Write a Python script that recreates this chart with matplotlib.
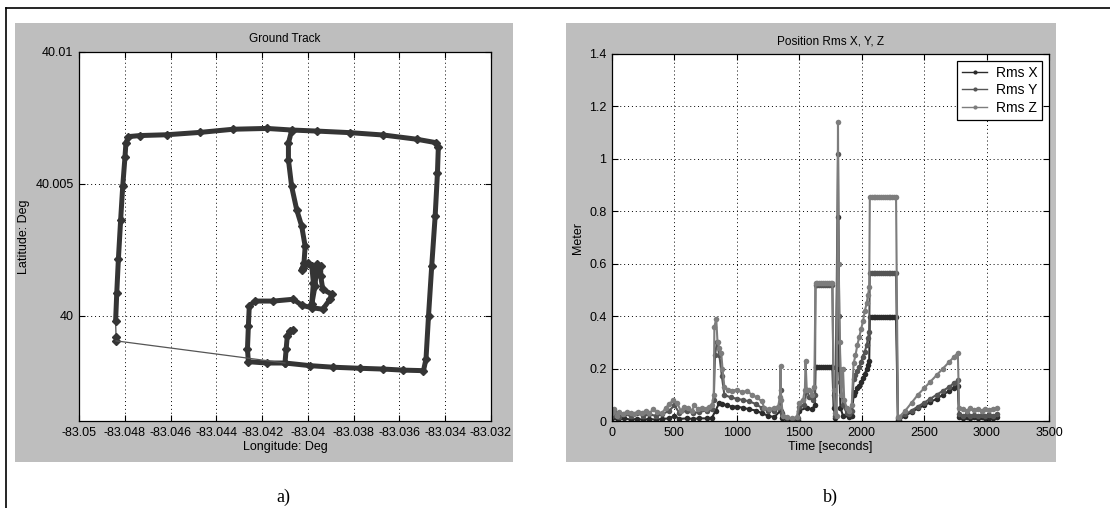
import matplotlib
matplotlib.use("Agg")
from matplotlib import pyplot as plt
from matplotlib.patches import Rectangle
from matplotlib.lines import Line2D

plt.rcParams["font.family"] = ["Liberation Sans", "DejaVu Sans"]

# ---- a) ground track (deg) ----
# main drive: spur -> bottom road -> right edge -> top road -> left edge
track_lon_a = [-83.04066, -83.04078, -83.04090, -83.04095, -83.04100, -83.03991, -83.03889,
               -83.03772, -83.03670, -83.03583, -83.03495, -83.03484, -83.03473, -83.03459,
               -83.03444, -83.03434, -83.03430, -83.03440, -83.03524, -83.03670, -83.03816,
               -83.03961, -83.04071, -83.04180, -83.04326, -83.04471, -83.04617, -83.04733,
               -83.04784, -83.04795, -83.04799, -83.04809, -83.04818, -83.04828, -83.04835,
               -83.04840]
track_lat_a = [39.99946, 39.99940, 39.99923, 39.99873, 39.99820, 39.99810, 39.99804,
               39.99800, 39.99797, 39.99793, 39.99791, 39.99835, 39.99999, 40.00188,
               40.00377, 40.00540, 40.00641, 40.00656, 40.00669, 40.00685, 40.00694,
               40.00700, 40.00704, 40.00710, 40.00707, 40.00695, 40.00686, 40.00683,
               40.00679, 40.00654, 40.00603, 40.00490, 40.00364, 40.00213, 40.00087,
               39.99980]
# isolated fixes after the outage
gap_lon = [-83.04838, -83.04838]
gap_lat = [39.99917, 39.99904]
# lower loop, block and middle street
track_lon_b = [-83.04100, -83.04180, -83.04260, -83.04264, -83.04260, -83.04256, -83.04231,
               -83.04151, -83.04063, -83.04027, -83.03983, -83.03935, -83.03903, -83.03896,
               -83.03935, -83.03944, -83.03944, -83.03961, -83.03969, -83.03983, -83.03976,
               -83.03983, -83.03998, -83.04020, -83.04027, -83.04017, -83.04012, -83.04027,
               -83.04049, -83.04071, -83.04085, -83.04085, -83.04071]
track_lat_b = [39.99820, 39.99820, 39.99825, 39.99873, 39.99961, 40.00037, 40.00055,
               40.00055, 40.00062, 40.00039, 40.00030, 40.00024, 40.00062, 40.00081,
               40.00100, 40.00150, 40.00188, 40.00194, 40.00112, 40.00043, 40.00125,
               40.00188, 40.00200, 40.00181, 40.00173, 40.00200, 40.00263, 40.00339,
               40.00402, 40.00490, 40.00591, 40.00654, 40.00702]

lon_ticks = [-83.05, -83.048, -83.046, -83.044, -83.042, -83.04, -83.038, -83.036, -83.034, -83.032]
lon_labels = ["-83.05", "-83.048", "-83.046", "-83.044", "-83.042", "-83.04", "-83.038",
              "-83.036", "-83.034", "-83.032"]
lat_ticks = [40.0, 40.005, 40.01]
lat_labels = ["40", "40.005", "40.01"]

# ---- b) position rms (m) vs time (s) ----
time_x = [0, 50, 100, 150, 200, 250, 300, 350, 400, 460, 500, 540, 600, 650, 700, 760, 800,
          830, 860, 880, 920, 960, 1000, 1050, 1100, 1150, 1200, 1250, 1300, 1350, 1360,
          1400, 1450, 1490, 1500, 1560, 1600, 1625,
          1630, 1645, 1660, 1675, 1690, 1705, 1720, 1735, 1750, 1765,
          1775, 1790, 1810, 1820, 1830, 1850, 1900, 1920,
          1935, 1950, 1965, 1980, 1995, 2010, 2025, 2040, 2050, 2060,
          2065, 2080, 2095, 2110, 2125, 2140, 2155, 2170, 2185, 2200, 2215, 2230, 2245, 2260, 2275,
          2290, 2300, 2350, 2400, 2450, 2500, 2550, 2600, 2650, 2700, 2740, 2770,
          2780, 2810, 2840, 2870, 2900, 2930, 2960, 2990, 3020, 3050, 3080]
rms_x = [0.01, 0.005, 0.01, 0.005, 0.008, 0.005, 0.008, 0.005, 0.008, 0.01, 0.02, 0.008, 0.01,
         0.008, 0.01, 0.01, 0.012,
         0.04, 0.07, 0.065, 0.06, 0.055, 0.055, 0.05, 0.045, 0.04, 0.03, 0.02, 0.015, 0.04, 0.01,
         0.003, 0.002, 0.003, 0.04, 0.05, 0.045, 0.06,
         0.205, 0.205, 0.205, 0.205, 0.205, 0.205, 0.205, 0.205, 0.205, 0.205,
         0.05, 0.01, 0.78, 0.2, 0.05, 0.02, 0.015, 0.02,
         0.1, 0.11, 0.125, 0.135, 0.15, 0.165, 0.18, 0.2, 0.215, 0.23,
         0.395, 0.395, 0.395, 0.395, 0.395, 0.395, 0.395, 0.395, 0.395, 0.395, 0.395, 0.395,
         0.395, 0.395, 0.395,
         0.005, 0.005, 0.02, 0.035, 0.048, 0.06, 0.072, 0.085, 0.1, 0.115, 0.126, 0.135,
         0.015, 0.012, 0.015, 0.01, 0.014, 0.012, 0.015, 0.011, 0.013, 0.012, 0.015]

time_y = [0, 30, 60, 100, 150, 200, 250, 300, 350, 400, 460, 500, 540, 600, 650, 700, 760, 800,
          815, 825, 840, 860, 880, 900, 950, 1000, 1050, 1100, 1150, 1200, 1250, 1300, 1340,
          1350, 1360, 1400, 1450, 1490, 1500, 1540, 1560, 1580, 1610, 1625,
          1630, 1645, 1660, 1675, 1690, 1705, 1720, 1735, 1750, 1765,
          1775, 1790, 1810, 1820, 1830, 1850, 1880, 1900, 1920,
          1935, 1950, 1965, 1980, 1995, 2010, 2025, 2040, 2050, 2060,
          2065, 2080, 2095, 2110, 2125, 2140, 2155, 2170, 2185, 2200, 2215, 2230, 2245, 2260, 2275,
          2290, 2300, 2350, 2400, 2450, 2500, 2550, 2600, 2650, 2700, 2740, 2770,
          2780, 2810, 2840, 2870, 2900, 2930, 2960, 2990, 3020, 3050, 3080]
rms_y = [0.02, 0.03, 0.015, 0.025, 0.02, 0.03, 0.02, 0.025, 0.02, 0.025, 0.04, 0.06, 0.03,
         0.04, 0.03, 0.035, 0.04, 0.045,
         0.08, 0.25, 0.3, 0.25, 0.17, 0.1, 0.09, 0.085, 0.08, 0.075, 0.065, 0.05, 0.04, 0.04, 0.05,
         0.12, 0.03, 0.01, 0.005, 0.01, 0.055, 0.06, 0.12, 0.09, 0.08, 0.1,
         0.52, 0.52, 0.52, 0.52, 0.52, 0.52, 0.52, 0.52, 0.52, 0.52,
         0.1, 0.02, 1.02, 0.4, 0.15, 0.06, 0.03, 0.025, 0.04,
         0.16, 0.175, 0.19, 0.205, 0.225, 0.245, 0.265, 0.29, 0.315, 0.34,
         0.565, 0.565, 0.565, 0.565, 0.565, 0.565, 0.565, 0.565, 0.565, 0.565, 0.565, 0.565,
         0.565, 0.565, 0.565,
         0.01, 0.01, 0.025, 0.04, 0.055, 0.07, 0.085, 0.1, 0.115, 0.13, 0.145, 0.155,
         0.025, 0.02, 0.025, 0.018, 0.022, 0.02, 0.024, 0.019, 0.021, 0.02, 0.025]

time_z = [0, 20, 40, 60, 90, 120, 150, 180, 210, 240, 270, 300, 330, 360, 400, 430, 460, 490,
          520, 550, 580, 610, 640, 660, 690, 720, 750, 780, 800, 815, 820, 835, 845, 860, 875,
          885, 900, 930, 960, 1000, 1040, 1080, 1120, 1160, 1200, 1220, 1260, 1300, 1330, 1345,
          1350, 1355, 1370, 1400, 1440, 1480, 1500, 1530, 1545, 1550, 1560, 1580, 1600, 1620,
          1630, 1645, 1660, 1675, 1690, 1705, 1720, 1735, 1750, 1765,
          1775, 1790, 1800, 1810, 1815, 1825, 1835, 1850, 1860, 1880, 1900, 1920,
          1935, 1950, 1965, 1980, 1995, 2010, 2025, 2040, 2050, 2060,
          2065, 2080, 2095, 2110, 2125, 2140, 2155, 2170, 2185, 2200, 2215, 2230, 2245, 2260, 2275,
          2290, 2300, 2350, 2400, 2450, 2500, 2550, 2600, 2650, 2700, 2740, 2770,
          2780, 2810, 2840, 2870, 2900, 2930, 2960, 2990, 3020, 3050, 3080]
rms_z = [0.03, 0.045, 0.02, 0.035, 0.025, 0.035, 0.03, 0.025, 0.035, 0.03, 0.04, 0.03, 0.045,
         0.035, 0.03, 0.05, 0.065, 0.08, 0.07, 0.04, 0.055, 0.05, 0.04, 0.06, 0.045, 0.05, 0.045,
         0.055, 0.06, 0.1, 0.36, 0.39, 0.3, 0.28, 0.26, 0.2, 0.13, 0.12, 0.115, 0.12, 0.11,
         0.115, 0.1, 0.09, 0.075, 0.05, 0.045, 0.05, 0.055, 0.09, 0.21, 0.08, 0.02, 0.015, 0.01,
         0.015, 0.07, 0.08, 0.12, 0.23, 0.12, 0.12, 0.1, 0.13,
         0.525, 0.525, 0.525, 0.525, 0.525, 0.525, 0.525, 0.525, 0.525, 0.525,
         0.12, 0.03, 0.02, 1.14, 0.6, 0.3, 0.1, 0.2, 0.08, 0.05, 0.04, 0.06,
         0.22, 0.25, 0.29, 0.32, 0.35, 0.38, 0.42, 0.45, 0.48, 0.51,
         0.855, 0.855, 0.855, 0.855, 0.855, 0.855, 0.855, 0.855, 0.855, 0.855, 0.855, 0.855,
         0.855, 0.855, 0.855,
         0.015, 0.015, 0.04, 0.07, 0.1, 0.125, 0.15, 0.175, 0.2, 0.225, 0.245, 0.26,
         0.05, 0.045, 0.04, 0.048, 0.042, 0.046, 0.04, 0.047, 0.043, 0.045, 0.05]

series_names = ["Rms X", "Rms Y", "Rms Z"]
series_colors = ["#2b2b2b", "#555555", "#7d7d7d"]

time_ticks = [0, 500, 1000, 1500, 2000, 2500, 3000, 3500]
meter_ticks = [0, 0.2, 0.4, 0.6, 0.8, 1.0, 1.2, 1.4]
meter_labels = ["0", "0.2", "0.4", "0.6", "0.8", "1", "1.2", "1.4"]

PANEL_GRAY = "#bebebe"
TRACK_COLOR = "#353535"


def style_axes(ax):
    # matlab look: boxed, ticks inside on all sides, dotted grid
    ax.grid(True, color="black", linestyle=(0, (1, 3)), linewidth=0.7)
    ax.tick_params(direction="in", top=True, right=True, length=4, width=0.8,
                   labelsize=9, pad=4)
    for sp in ax.spines.values():
        sp.set_linewidth(0.9)


def plot_ground_track(ax):
    ax.plot(track_lon_a, track_lat_a, "-", color=TRACK_COLOR, lw=3.6,
            marker="D", ms=3.6, solid_joinstyle="round", solid_capstyle="round")
    ax.plot(gap_lon, gap_lat, "-", color=TRACK_COLOR, lw=0.8, marker="D", ms=3.6)
    ax.plot(track_lon_b, track_lat_b, "-", color=TRACK_COLOR, lw=3.6,
            marker="D", ms=3.6, solid_joinstyle="round", solid_capstyle="round")
    # thin jumps across the data outage
    ax.plot([track_lon_a[-1], gap_lon[0]], [track_lat_a[-1], gap_lat[0]],
            color=TRACK_COLOR, lw=0.8)
    ax.plot([gap_lon[-1], track_lon_b[0]], [gap_lat[-1], track_lat_b[0]],
            color="#555555", lw=0.9)

    ax.set_xlim(-83.05, -83.032)
    ax.set_ylim(39.996, 40.01)
    ax.set_xticks(lon_ticks)
    ax.set_xticklabels(lon_labels)
    ax.set_yticks(lat_ticks)
    ax.set_yticklabels(lat_labels)
    ax.set_title("Ground Track", fontsize=8.5, pad=7)
    ax.set_xlabel("Longitude: Deg", fontsize=9, labelpad=2)
    ax.set_ylabel("Latitude: Deg", fontsize=9, labelpad=4)
    style_axes(ax)


def plot_rms(ax):
    data = [(time_x, rms_x), (time_y, rms_y), (time_z, rms_z)]
    for (t, v), name, col in zip(data, series_names, series_colors):
        ax.plot(t, v, "-", color=col, lw=1.5, marker="o", ms=4,
                markeredgewidth=0, label=name)

    ax.set_xlim(0, 3500)
    ax.set_ylim(0, 1.4)
    ax.set_xticks(time_ticks)
    ax.set_yticks(meter_ticks)
    ax.set_yticklabels(meter_labels)
    ax.set_title("Position Rms X, Y, Z", fontsize=8.5, pad=7)
    ax.set_xlabel("Time [seconds]", fontsize=9, labelpad=2)
    ax.set_ylabel("Meter", fontsize=9, labelpad=4)
    style_axes(ax)

    handles = [Line2D([], [], color=c, lw=1.0, marker="o", ms=3, markeredgewidth=0)
               for c in series_colors]
    leg = ax.legend(handles, series_names, loc="upper right", fontsize=10,
                    fancybox=False, framealpha=1, edgecolor="black",
                    handlelength=1.8, borderpad=0.35, labelspacing=0.25,
                    handletextpad=0.6, borderaxespad=0.5)
    leg.get_frame().set_linewidth(0.9)


if __name__ == "__main__":
    fig = plt.figure(figsize=(11.1, 5.08), dpi=100)

    # gray figure panels behind each plot
    for x0, w in ((15 / 1110, 498 / 1110), (566 / 1110, 490 / 1110)):
        fig.add_artist(Rectangle((x0, 46 / 508), w, 439 / 508, transform=fig.transFigure,
                                 facecolor=PANEL_GRAY, edgecolor="none", zorder=-10))
    # page border (top and left)
    fig.add_artist(Line2D([6 / 1110, 1], [500 / 508, 500 / 508], color="black", lw=1.2))
    fig.add_artist(Line2D([6 / 1110, 6 / 1110], [0, 500 / 508], color="black", lw=1.2))

    ax_a = fig.add_axes([79 / 1110, 87 / 508, 412 / 1110, 369 / 508])
    ax_b = fig.add_axes([612 / 1110, 87 / 508, 437 / 1110, 367 / 508])
    plot_ground_track(ax_a)
    plot_rms(ax_b)

    fig.text(283 / 1110, 11 / 508, "a)", family="Liberation Serif", fontsize=13,
             ha="center", va="center")
    fig.text(830 / 1110, 11 / 508, "b)", family="Liberation Serif", fontsize=13,
             ha="center", va="center")

    fig.savefig("out.png", dpi=100)
